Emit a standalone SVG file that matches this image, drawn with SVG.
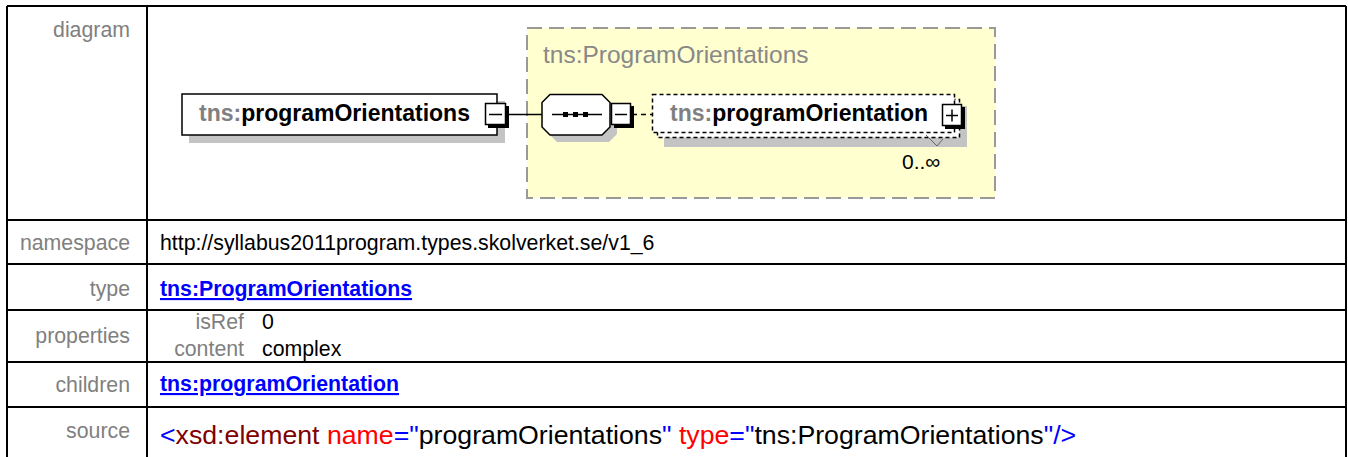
<svg xmlns="http://www.w3.org/2000/svg" width="1348" height="457" viewBox="0 0 1348 457">
<style>
text{font-family:"Liberation Sans",Arial,sans-serif}
.lbl{font-size:21.3px;fill:#808080;text-anchor:end}
.val{font-size:21.3px;fill:#000}
.lnk{font-size:21.3px;fill:#0000ff;font-weight:bold;text-decoration:underline}
.grid{stroke:#000;stroke-width:2;fill:none}
.shadow{fill:#c4c4c4}
.box{fill:#fff;stroke:#000;stroke-width:1.5}
.dbox{fill:#fff;stroke:#000;stroke-width:1.5;stroke-dasharray:4 3}
.btn{fill:#fff;stroke:#000;stroke-width:1.5}
.ns{fill:#808080}
.nm{font-size:23px;font-weight:bold}
.src{font-size:26.7px}
</style>
<rect width="1348" height="457" fill="#fff"/>
<g id="table" class="grid">
<path d="M7 6H1346M7 6V457M147 6V457M1346 6V457M7 220H1346M7 264H1346M7 310H1346M7 362H1346M7 407H1346"/>
</g>
<g id="labels">
<text class="lbl" x="130" y="37">diagram</text>
<text class="lbl" x="130" y="250">namespace</text>
<text class="lbl" x="130" y="296">type</text>
<text class="lbl" x="130" y="343">properties</text>
<text class="lbl" x="130" y="392">children</text>
<text class="lbl" x="130" y="438">source</text>
</g>
<g id="values">
<text class="val" x="160" y="250">http://syllabus2011program.types.skolverket.se/v1_6</text>
<text class="lnk" x="160" y="296">tns:ProgramOrientations</text>
<text class="lbl" x="244" y="329">isRef</text>
<text class="val" x="262" y="329">0</text>
<text class="lbl" x="244" y="356">content</text>
<text class="val" x="262" y="356">complex</text>
<text class="lnk" x="160" y="391">tns:programOrientation</text>
<text class="src" x="160" y="444"><tspan fill="#0000ff">&lt;</tspan><tspan fill="#800000">xsd:element</tspan> <tspan fill="#ff0000">name</tspan><tspan fill="#0000ff">="</tspan><tspan fill="#000">programOrientations</tspan><tspan fill="#0000ff">"</tspan> <tspan fill="#ff0000">type</tspan><tspan fill="#0000ff">="</tspan><tspan fill="#000">tns:ProgramOrientations</tspan><tspan fill="#0000ff">"/&gt;</tspan></text>
</g>
<g id="ProgramOrientations-type">
<rect x="527" y="28" width="468" height="170" fill="#ffffd0" stroke="#999" stroke-width="2" stroke-dasharray="15 7"/>
<text x="543" y="63" font-size="24.5px" fill="#888">tns:ProgramOrientations</text>
</g>
<g id="connectors" stroke="#000" stroke-width="1.5" fill="none">
<path d="M507 114.5H543"/>
<path d="M632 114.5H652" stroke-dasharray="5 4"/>
</g>
<g id="programOrientations">
<rect class="shadow" x="189" y="101" width="316" height="42"/>
<rect class="box" x="182" y="94" width="315" height="41"/>
<text class="nm" x="199" y="121"><tspan class="ns">tns:</tspan>programOrientations</text>
<rect x="488" y="106" width="21" height="22" fill="#000"/>
<rect class="btn" x="485.5" y="103.5" width="20" height="21"/>
<path d="M489 114.5H502" stroke="#000" stroke-width="1.5"/>
</g>
<g id="sequence">
<polygon class="shadow" points="557,101 609,101 617,109 617,134 609,142 557,142 549,134 549,109"/>
<polygon class="box" points="550,94.5 602,94.5 610,102.5 610,127 602,135 550,135 542,127 542,102.5"/>
<path d="M552 114.5H602" stroke="#000" stroke-width="1.5"/>
<rect x="563" y="112" width="5" height="5" fill="#000"/>
<rect x="573" y="112" width="5" height="5" fill="#000"/>
<rect x="583" y="112" width="5" height="5" fill="#000"/>
<rect x="614" y="106" width="20" height="22" fill="#000"/>
<rect class="btn" x="611.5" y="103.5" width="19" height="21"/>
<path d="M615 114.5H627" stroke="#000" stroke-width="1.5"/>
</g>
<g id="programOrientation">
<rect class="shadow" x="664" y="106" width="303" height="41"/>
<rect class="dbox" x="657.5" y="99.5" width="302" height="38"/>
<rect class="dbox" x="652.5" y="94.5" width="302" height="38"/>
<text class="nm" x="670" y="121"><tspan class="ns">tns:</tspan>programOrientation</text>
<rect x="945" y="107" width="20" height="22" fill="#000"/>
<rect class="btn" x="942.5" y="104.5" width="19" height="21"/>
<path d="M946 115.5H958M952 109.5V121.5" stroke="#000" stroke-width="1.5"/>
<polyline points="926,135 937,146 943,139" fill="none" stroke="#666" stroke-width="1"/>
<text x="902" y="169" font-size="21px" fill="#000">0..∞</text>
</g>
</svg>
